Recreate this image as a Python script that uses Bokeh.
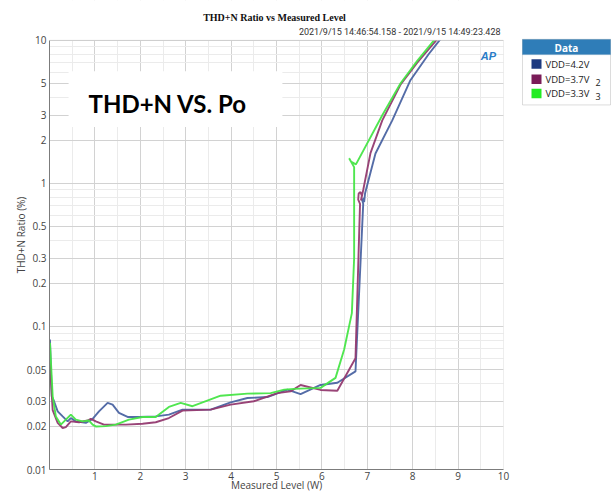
from bokeh.plotting import figure
from bokeh.layouts import row
from bokeh.models import Range1d, FixedTicker, Label, BoxAnnotation
from bokeh.embed import file_html
from bokeh.resources import INLINE

# ---- data ----
level_42 = [0.01, 0.05, 0.10, 0.18, 0.29, 0.40, 0.47, 0.58, 0.80, 0.95, 1.09, 1.28, 1.39, 1.53,
            1.72, 1.97, 2.34, 2.63, 2.93, 3.55, 3.99, 4.36, 4.80, 5.24, 5.53, 5.97, 6.34, 6.74,
            6.91, 6.89, 6.92, 6.93, 6.95, 7.18, 7.55, 7.95, 8.35, 8.62, 8.80]
thd_42 = [0.081, 0.0325, 0.030, 0.0255, 0.0235, 0.0217, 0.0229, 0.0217, 0.0212, 0.0226, 0.0255,
          0.0292, 0.0284, 0.0249, 0.0233, 0.0233, 0.0235, 0.0242, 0.0262, 0.0262, 0.0295, 0.0316,
          0.0321, 0.0362, 0.0337, 0.039, 0.0404, 0.0485, 0.72, 0.76, 0.79, 0.74, 0.85, 1.62, 2.76,
          5.27, 8.0, 10.3, 12.0]

level_37 = [0.01, 0.07, 0.18, 0.29, 0.36, 0.47, 0.65, 0.84, 0.91, 1.02, 1.20, 1.68, 2.05, 2.34,
            2.63, 2.93, 3.55, 3.99, 4.50, 5.02, 5.31, 5.53, 5.97, 6.34, 6.74, 6.84, 6.80, 6.81,
            6.85, 6.88, 6.86, 6.91, 7.07, 7.33, 7.73, 8.10, 8.55, 8.75]
thd_37 = [0.055, 0.026, 0.0212, 0.0195, 0.0198, 0.0217, 0.0214, 0.022, 0.0226, 0.0217, 0.0206,
          0.0206, 0.0209, 0.0214, 0.0229, 0.0258, 0.0262, 0.0284, 0.030, 0.0342, 0.0352, 0.039,
          0.036, 0.0355, 0.06, 0.72, 0.77, 0.85, 0.87, 0.82, 0.76, 0.90, 1.63, 2.76, 4.9, 7.0,
          10.3, 12.0]

level_33 = [0.01, 0.07, 0.14, 0.25, 0.36, 0.47, 0.58, 0.73, 0.87, 0.95, 1.02, 1.24, 1.46, 1.75,
            2.05, 2.34, 2.63, 2.89, 3.15, 3.77, 4.36, 4.87, 5.17, 5.39, 5.97, 6.30, 6.49, 6.66,
            6.71, 6.71, 6.60, 6.64, 6.75, 7.33, 7.73, 8.10, 8.50, 8.70]
thd_33 = [0.077, 0.0325, 0.0235, 0.0206, 0.0223, 0.0242, 0.0223, 0.0217, 0.022, 0.0206, 0.0200,
          0.0201, 0.0206, 0.0223, 0.0233, 0.0233, 0.0274, 0.0292, 0.0277, 0.0328, 0.0339, 0.0342,
          0.0362, 0.0366, 0.0372, 0.0437, 0.069, 0.124, 0.30, 1.30, 1.50, 1.42, 1.36, 3.0, 5.0,
          7.2, 10.3, 12.0]

series_names = ["VDD=4.2V", "VDD=3.7V", "VDD=3.3V"]
series_subs = ["", "2", "3"]
line_colors = ["#4b64a2", "#933a70", "#47e547"]
swatch_colors = ["#1d3a80", "#7a1c58", "#22ec22"]

x_ticks = [1, 2, 3, 4, 5, 6, 7, 8, 9, 10]
x_minor = [0.5, 1.5, 2.5, 3.5, 4.5, 5.5, 6.5, 7.5, 8.5, 9.5]
y_ticks = [0.01, 0.02, 0.03, 0.05, 0.1, 0.2, 0.3, 0.5, 1, 2, 3, 5, 10]
y_tick_labels = ["0.01", "0.02", "0.03", "0.05", "0.1", "0.2", "0.3", "0.5", "1", "2", "3", "5", "10"]
y_minor = [0.04, 0.06, 0.07, 0.08, 0.09, 0.4, 0.6, 0.7, 0.8, 0.9, 4, 6, 7, 8, 9]

X_MIN, X_MAX = 0, 10
Y_MIN, Y_MAX = 0.01, 10

FONT = "Open Sans"
PAGE_W, PAGE_H = 614, 494
MAIN_W = 520
LEFT, RIGHT = 49, 17          # frame spans x 49..503
FRAME_BOTTOM = 470            # y = 0.01 here, y = 10 at 40
y_view_max = 10 ** (1 + 40 / ((FRAME_BOTTOM - 40) / 3.0))   # frame extends above y=10 for titles

p = figure(width=MAIN_W, height=PAGE_H, output_backend="svg", toolbar_location=None,
           x_range=Range1d(X_MIN, X_MAX), y_range=Range1d(Y_MIN, y_view_max),
           y_axis_type="log",
           min_border_left=LEFT, min_border_right=RIGHT, min_border_top=0, min_border_bottom=0)
p.border_fill_color = "white"
p.background_fill_color = "white"
p.outline_line_color = None

# axes
p.xaxis.ticker = FixedTicker(ticks=x_ticks, minor_ticks=x_minor)
p.xaxis.major_label_overrides = {t: str(t) for t in x_ticks}
p.yaxis.ticker = FixedTicker(ticks=y_ticks, minor_ticks=y_minor)
p.yaxis.major_label_overrides = {t: s for t, s in zip(y_ticks, y_tick_labels)}
p.yaxis.bounds = (Y_MIN, Y_MAX)
for ax in (p.xaxis, p.yaxis):
    ax.major_tick_out = 0
    ax.major_tick_in = 0
    ax.minor_tick_out = 0
    ax.minor_tick_in = 0
    ax.axis_line_color = "#7a7a7a"
    ax.major_label_text_font = FONT
    ax.major_label_text_font_size = "10px"
    ax.major_label_text_color = "#444444"
    ax.axis_label_text_font = FONT
    ax.axis_label_text_font_size = "10px"
    ax.axis_label_text_font_style = "normal"
    ax.axis_label_text_color = "#444444"
p.xaxis.axis_label = "Measured Level (W)"
p.yaxis.axis_label = "THD+N Ratio (%)"
p.xaxis.major_label_standoff = 2
p.xaxis.axis_label_standoff = -5
p.yaxis.major_label_standoff = 3
p.yaxis.axis_label_standoff = -4

p.xgrid.grid_line_color = "#d2d2d2"
p.ygrid.grid_line_color = "#d2d2d2"
p.xgrid.minor_grid_line_color = "#ebebeb"
p.ygrid.minor_grid_line_color = "#ebebeb"

# curves
for xs, ys, c in [(level_42, thd_42, line_colors[0]),
                  (level_37, thd_37, line_colors[1]),
                  (level_33, thd_33, line_colors[2])]:
    p.line(xs, ys, line_color=c, line_width=1.9, line_alpha=0.95)

# blank the area above the plotting box, then draw its border
p.add_layout(BoxAnnotation(bottom=Y_MAX, fill_color="white", fill_alpha=1, line_alpha=0))
p.add_layout(BoxAnnotation(left=X_MIN, right=X_MAX, bottom=Y_MIN, top=Y_MAX,
                           fill_alpha=0, line_color="#8a8a8a", line_width=1))

# overlay box with big text
p.add_layout(BoxAnnotation(left=0.42, right=5.13, bottom=2.48, top=6.08,
                           fill_color="white", fill_alpha=1, line_alpha=0))
p.add_layout(Label(x=0.86, y=3.63, text="THD+N VS. Po",
                   text_font="Lato", text_font_style="bold", text_font_size="24px",
                   text_color="black", text_baseline="middle"))


def sx(ref_x):
    return ref_x - LEFT


def sy(ref_y):
    return FRAME_BOTTOM - ref_y


# titles
p.add_layout(Label(x=sx(274), y=sy(18), x_units="screen", y_units="screen",
                   text="THD+N Ratio vs Measured Level", text_font="Liberation Serif",
                   text_font_style="bold", text_font_size="10px", text_color="#111111",
                   text_align="center", text_baseline="middle"))
p.add_layout(Label(x=sx(500), y=sy(32), x_units="screen", y_units="screen",
                   text="2021/9/15 14:46:54.158 - 2021/9/15 14:49:23.428", text_font="Roboto",
                   text_font_size="9px", text_color="#333333", text_align="right",
                   text_baseline="middle"))
p.add_layout(Label(x=sx(488), y=sy(56), x_units="screen", y_units="screen", text="AP",
                   text_font="Liberation Sans", text_font_style="bold italic",
                   text_font_size="11px", text_color="#2a7cc7", text_align="center",
                   text_baseline="middle"))

# ---- legend panel (separate canvas to the right of the plot) ----
lg = figure(width=PAGE_W - MAIN_W, height=PAGE_H, output_backend="svg", toolbar_location=None,
            x_range=Range1d(MAIN_W, PAGE_W), y_range=Range1d(PAGE_H, 0),
            x_axis_location=None, y_axis_location=None,
            min_border_left=0, min_border_right=0, min_border_top=0, min_border_bottom=0)
lg.border_fill_color = "white"
lg.background_fill_color = "white"
lg.outline_line_color = None
lg.xgrid.visible = False
lg.ygrid.visible = False

L_LEFT, L_RIGHT, L_TOP, L_BOTTOM, L_HEAD = 522, 610, 41, 110, 57
lg.add_layout(BoxAnnotation(left=L_LEFT, right=L_RIGHT, top=L_TOP, bottom=L_BOTTOM,
                            fill_color="white", fill_alpha=1, line_color="#8a8a8a",
                            line_width=1))
lg.add_layout(BoxAnnotation(left=L_LEFT, right=L_RIGHT, top=L_TOP, bottom=L_HEAD,
                            fill_color="#2f7db8", fill_alpha=1, line_color="#2a6fa3"))
lg.add_layout(Label(x=(L_LEFT + L_RIGHT) / 2, y=(L_TOP + L_HEAD) / 2 + 1, text="Data",
                    text_font=FONT, text_font_style="bold", text_font_size="10px",
                    text_color="white", text_align="center", text_baseline="middle"))
row_y = [67, 83, 98]
for name, sub, sc, ry in zip(series_names, series_subs, swatch_colors, row_y):
    lg.add_layout(BoxAnnotation(left=531, right=541, top=ry - 5, bottom=ry + 5,
                                fill_color=sc, fill_alpha=1, line_alpha=0))
    lg.add_layout(Label(x=545, y=ry, text=name, text_font=FONT, text_font_size="9.5px",
                        text_color="#222222", text_baseline="middle"))
    if sub:
        lg.add_layout(Label(x=595, y=ry + 3, text=sub, text_font=FONT, text_font_size="9px",
                            text_color="#222222", text_baseline="middle"))

layout = row(p, lg, spacing=0)
html = file_html(layout, INLINE)
open("out.html", "w").write(html)
